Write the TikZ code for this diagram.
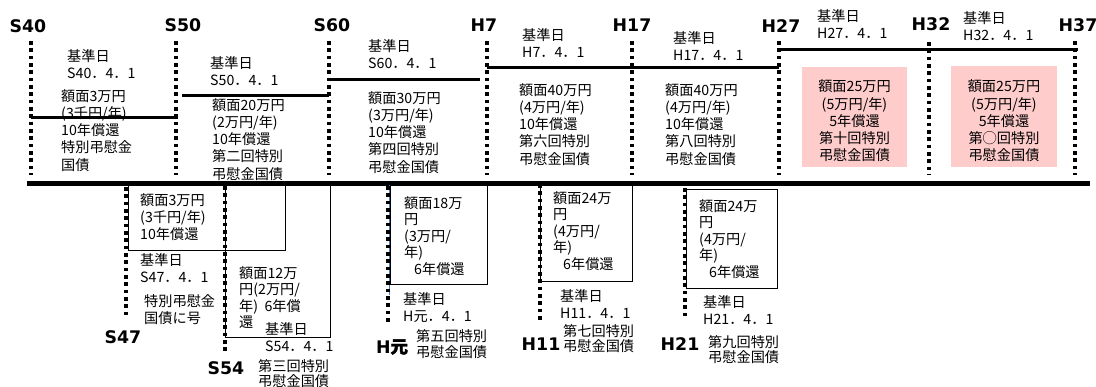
\documentclass[tikz,border=0pt]{standalone}
\usepackage{fontspec}
\setmainfont{Noto Sans CJK JP}
\newfontfamily\erafont{DejaVu Sans}
\newfontfamily\cjkbold[FakeBold=2]{Noto Sans CJK JP}
\definecolor{pinkbox}{RGB}{255,204,204}
\definecolor{edgeblue}{RGB}{70,125,195}

\begin{document}
\begin{tikzpicture}[x=0.03cm, y=-0.03cm,
    era/.style={inner sep=0pt, font=\erafont\bfseries\fontsize{14.8}{16}\selectfont},
    txt/.style={anchor=north west, inner sep=0pt, align=left, font=\fontsize{12.1}{14.7}\selectfont},
    tight/.style={txt, font=\fontsize{12.1}{14.1}\selectfont},
    tick/.style={line width=0.11cm, dash pattern=on 0.11cm off 0.11cm},
    lvl/.style={line width=0.09cm},
    axis/.style={line width=0.15cm},
    box/.style={line width=0.8pt},
    pinkrect/.style={fill=pinkbox},
    pinktxt/.style={inner sep=0pt, align=center, font=\fontsize{12.1}{14.7}\selectfont}]
    \useasboundingbox (0,0) rectangle (1096,386);

    % era labels on top
    \node[era] (S40) at (28,26) {S40};
    \node[era] (S50) at (183,25) {S50};
    \node[era] (S60) at (332,25) {S60};
    \node[era] (H7) at (484,25) {H7};
    \node[era] (H17) at (632,25) {H17};
    \node[era] (H27) at (781,26) {H27};
    \node[era] (H32) at (931,24) {H32};
    \node[era] (H37) at (1078,25) {H37};

    % dotted marks on top
    \coordinate (s40t) at (31,41);  \coordinate (s40b) at (31,175);
    \coordinate (s50t) at (176,41); \coordinate (s50b) at (176,175);
    \coordinate (s60t) at (329,41); \coordinate (s60b) at (329,175);
    \coordinate (h7t) at (487,41);  \coordinate (h7b) at (487,175);
    \coordinate (h17t) at (632,41); \coordinate (h17b) at (632,175);
    \coordinate (h27t) at (779,41); \coordinate (h27b) at (779,175);
    \coordinate (h32t) at (929,42); \coordinate (h32b) at (929,175);
    \coordinate (h37t) at (1075,41); \coordinate (h37b) at (1075,175);
    \draw[tick] (s40t) -- (s40b);
    \draw[tick] (s50t) -- (s50b);
    \draw[tick] (s60t) -- (s60b);
    \draw[tick] (h7t) -- (h7b);
    \draw[tick] (h17t) -- (h17b);
    \draw[tick] (h27t) -- (h27b);
    \draw[tick] (h32t) -- (h32b);
    \draw[tick] (h37t) -- (h37b);

    % levels
    \coordinate (lv1a) at (31,117);  \coordinate (lv1b) at (178,117);
    \coordinate (lv2a) at (182,95);  \coordinate (lv2b) at (329,95);
    \coordinate (lv3a) at (329,79);  \coordinate (lv3b) at (480,79);
    \coordinate (lv4a) at (487,67);  \coordinate (lv4b) at (779,67);
    \coordinate (lv5a) at (780,49);  \coordinate (lv5b) at (1078,49);
    \draw[lvl] (lv1a) -- (lv1b);
    \draw[lvl] (lv2a) -- (lv2b);
    \draw[lvl] (lv3a) -- (lv3b);
    \draw[lvl] (lv4a) -- (lv4b);
    \draw[lvl] (lv5a) -- (lv5b);

    % main line
    \coordinate (axl) at (27,183); \coordinate (axr) at (1090,183);
    \draw[axis] (axl) -- (axr);

    % upper texts
    \node[txt] (s40d) at (67,49) {基準日\\S40．4．1};
    \node[txt] (s40a) at (61,89) {額面3万円\\(3千円/年)\\10年償還\\特別弔慰金\\国債};
    \node[txt] (s50d) at (210,56) {基準日\\S50．4．1};
    \node[txt] (s50a) at (212,98) {額面20万円\\(2万円/年)\\10年償還\\第二回特別\\弔慰金国債};
    \node[txt] (s60d) at (368,39) {基準日\\S60．4．1};
    \node[txt] (s60a) at (368,91) {額面30万円\\(3万円/年)\\10年償還\\第四回特別\\弔慰金国債};
    \node[txt] (h7d) at (522,28) {基準日\\H7．4．1};
    \node[txt] (h7a) at (519,83) {額面40万円\\(4万円/年)\\10年償還\\第六回特別\\弔慰金国債};
    \node[txt] (h17d) at (673,31) {基準日\\H17．4．1};
    \node[txt] (h17a) at (665,83) {額面40万円\\(4万円/年)\\10年償還\\第八回特別\\弔慰金国債};
    \node[txt] (h27d) at (817,9) {基準日\\H27．4．1};
    \coordinate (h27p) at (802,67); \coordinate (h27q) at (907,167);
    \fill[pinkrect] (h27p) rectangle (h27q);
    \node[pinktxt] (h27a) at (854.5,121) {額面25万円\\(5万円/年)\\5年償還\\第十回特別\\弔慰金国債};
    \node[txt] (h32d) at (963,11) {基準日\\H32．4．1};
    \coordinate (h32p) at (951,66); \coordinate (h32q) at (1057,167);
    \fill[pinkrect] (h32p) rectangle (h32q);
    \node[pinktxt] (h32a) at (1004,121) {額面25万円\\(5万円/年)\\5年償還\\第◯回特別\\弔慰金国債};

    % lower boxes
    \coordinate (s47p) at (128,183); \coordinate (s47q) at (285,250);
    \coordinate (s54p) at (225,183); \coordinate (s54q) at (330,337);
    \coordinate (hgp) at (390,183);  \coordinate (hgq) at (487,284);
    \coordinate (h11p) at (540,183); \coordinate (h11q) at (632,281);
    \coordinate (h21p) at (686,189); \coordinate (h21q) at (777,288);
    \draw[box] (s47p) rectangle (s47q);
    \draw[box] (s54p) rectangle (s54q);
    \draw[box] (hgp) rectangle (hgq);
    \draw[box] (h11p) rectangle (h11q);
    \draw[box] (h21p) rectangle (h21q);
    \coordinate (hgu) at (389,185); \coordinate (hgv) at (389,295);
    \draw[edgeblue, line width=0.5pt] (hgu) -- (hgv);

    % dotted marks below
    \coordinate (s47t) at (126,187); \coordinate (s47b) at (126,315);
    \coordinate (s54t) at (225,186); \coordinate (s54b) at (225,351);
    \coordinate (hgt) at (388,186);  \coordinate (hgb) at (388,325);
    \coordinate (h11t) at (540,184); \coordinate (h11b) at (540,320);
    \coordinate (h21t) at (685,188); \coordinate (h21b) at (685,320);
    \draw[tick] (s47t) -- (s47b);
    \draw[tick] (s54t) -- (s54b);
    \draw[tick] (hgt) -- (hgb);
    \draw[tick] (h11t) -- (h11b);
    \draw[tick] (h21t) -- (h21b);

    % lower texts
    \node[txt] (s47a) at (140,193) {額面3万円\\(3千円/年)\\10年償還};
    \node[txt] (s47d) at (140,253) {基準日\\S47．4．1};
    \node[txt] (s47n) at (144,294) {特別弔慰金\\国債に号};
    \node[era] (S47) at (123,337) {S47};

    \node[tight] (s54a) at (239,266) {額面12万\\円(2万円/\\年)~~6年償\\還};
    \node[txt] (s54d) at (265,322) {基準日\\S54．4．1};
    \node[txt, font=\fontsize{12.1}{12.8}\selectfont] (s54n) at (258,359) {第三回特別\\弔慰金国債};
    \node[era] (S54) at (226,368) {S54};

    \node[tight] (hga) at (404,196) {額面18万\\円\\(3万円/\\年)\\\hspace*{0.3cm}6年償還};
    \node[txt] (hgd) at (403,292) {基準日\\H元．4．1};
    \node[txt, font=\fontsize{12.1}{13.6}\selectfont] (hgn) at (416,329) {第五回特別\\弔慰金国債};
    \node[era] (Hg) at (392,347) {H{\cjkbold 元}};

    \node[tight] (h11a) at (553,191) {額面24万\\円\\(4万円/\\年)\\\hspace*{0.3cm}6年償還};
    \node[txt] (h11d) at (560,289) {基準日\\H11．4．1};
    \node[txt, font=\fontsize{12.1}{13}\selectfont] (h11n) at (563,324) {第七回特別\\弔慰金国債};
    \node[era] (H11) at (541,344) {H11};

    \node[tight] (h21a) at (699,199) {額面24万\\円\\(4万円/\\年)\\\hspace*{0.3cm}6年償還};
    \node[txt] (h21d) at (703,295) {基準日\\H21．4．1};
    \node[txt, font=\fontsize{12.1}{13}\selectfont] (h21n) at (708,335) {第九回特別\\弔慰金国債};
    \node[era] (H21) at (680,344) {H21};
\end{tikzpicture}
\end{document}
